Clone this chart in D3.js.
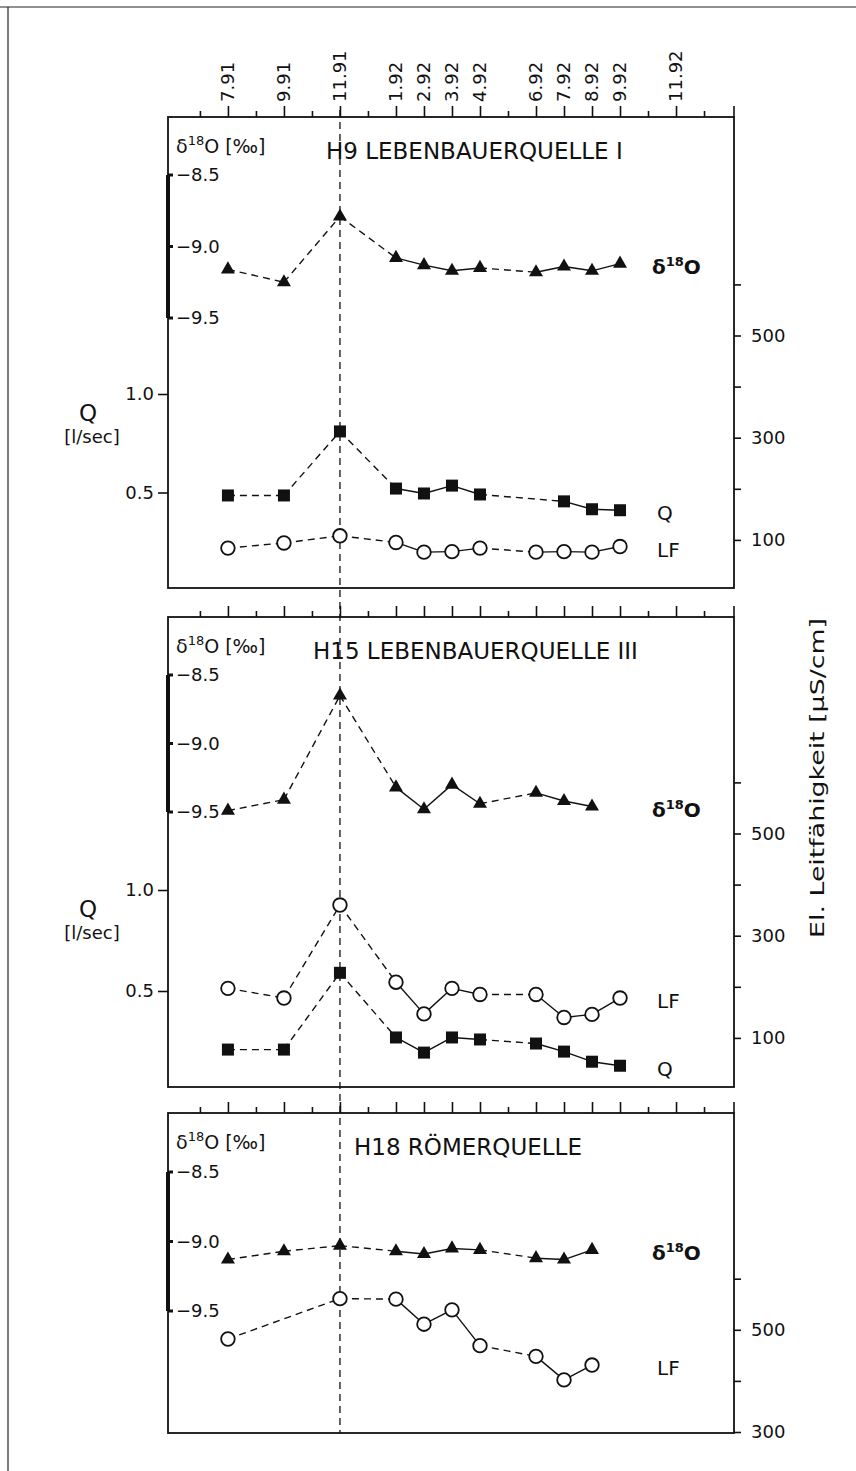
<!DOCTYPE html>
<html>
<head>
<meta charset="utf-8">
<script src="https://cdn.jsdelivr.net/npm/d3@7"></script>
<style>
  body { margin: 0; background: #fff; }
  text { font-family: "DejaVu Sans", sans-serif; fill: #111; }
</style>
</head>
<body>
<div id="chart"></div>
<script>
// sampling dates (month.year)
var months = ["7.91", "9.91", "11.91", "1.92", "2.92", "3.92", "4.92", "6.92", "7.92", "8.92", "9.92"];
var topLabels = ["7.91", "9.91", "11.91", "1.92", "2.92", "3.92", "4.92", "6.92", "7.92", "8.92", "9.92", "11.92"];
var titles = ["H9 LEBENBAUERQUELLE I", "H15 LEBENBAUERQUELLE III", "H18 RÖMERQUELLE"];
var deltaTicks = [-8.5, -9.0, -9.5];
var qTicks = [0.5, 1.0];
var lfTicks = [100, 200, 300, 400, 500, 600];
var lfTicks3 = [300, 400, 500, 600];

// H9 Lebenbauerquelle I
var h9Delta = [-9.16, -9.25, -8.79, -9.08, -9.13, -9.17, -9.15, -9.18, -9.14, -9.17, -9.12];
var h9Q = [0.485, 0.485, 0.81, 0.52, 0.495, 0.535, 0.49, null, 0.455, 0.415, 0.41];
var h9LF = [84, 94, 108, 95, 76, 77, 84, 76, 77, 76, 87];
// H15 Lebenbauerquelle III
var h15Delta = [-9.49, -9.41, -8.65, -9.32, -9.48, -9.30, -9.44, -9.36, -9.42, -9.46, null];
var h15Q = [0.21, 0.21, 0.59, 0.27, 0.195, 0.27, 0.26, 0.24, 0.20, 0.15, 0.13];
var h15LF = [197, 178, 360, 209, 147, 197, 185, 185, 140, 146, 178];
// H18 Roemerquelle
var h18Delta = [-9.13, -9.07, -9.03, -9.07, -9.09, -9.05, -9.06, -9.12, -9.13, -9.06, null];
var h18LF = [482, null, 561, 560, 511, 539, 469, 448, 402, 431, null];

var width = 856, height = 1471;

var svg = d3.select("#chart").append("svg")
    .attr("width", width)
    .attr("height", height);

function monthIndex(s) {
    var p = s.split(".");
    return (+p[1] - 91) * 12 + (+p[0] - 7);
}

var left = 168, right = 734;
var x = d3.scaleLinear().domain([-2.14, 18.07]).range([left, right]);

// outer frame (top and left edge of the scanned page)
svg.append("line").attr("x1", 0).attr("x2", width).attr("y1", 7).attr("y2", 7)
    .attr("stroke", "#222").attr("stroke-width", 1.2);
svg.append("line").attr("x1", 8).attr("x2", 8).attr("y1", 7).attr("y2", height)
    .attr("stroke", "#222").attr("stroke-width", 1.2);

var panels = [
    { top: 117, bottom: 588, d: [175, 318], q: [591, 394], lf0: 591, lfMin: 0, lfTicks: lfTicks, titleX: 326,
      series: [
        { vals: h9Delta, type: "d", label: "delta" },
        { vals: h9Q, type: "q", label: "Q" },
        { vals: h9LF, type: "lf", label: "LF" }
      ] },
    { top: 617, bottom: 1087, d: [675, 812], q: [1092, 890], lf0: 1089, lfMin: 0, lfTicks: lfTicks, titleX: 313,
      series: [
        { vals: h15Delta, type: "d", label: "delta" },
        { vals: h15Q, type: "q", label: "Q" },
        { vals: h15LF, type: "lf", label: "LF" }
      ] },
    { top: 1113, bottom: 1433, d: [1172, 1311], q: null, lf0: 1432, lfMin: 300, lfTicks: lfTicks3, titleX: 354,
      series: [
        { vals: h18Delta, type: "d", label: "delta" },
        { vals: h18LF, type: "lf", label: "LF" }
      ] }
];

var majorIdx = topLabels.map(monthIndex);
var allIdx = d3.range(-1, 18);
var minorIdx = allIdx.filter(function (d) { return majorIdx.indexOf(d) < 0; });

// dashed reference line at 11.91
svg.append("line")
    .attr("x1", x(monthIndex("11.91"))).attr("x2", x(monthIndex("11.91")))
    .attr("y1", 110).attr("y2", panels[2].bottom)
    .attr("stroke", "#111").attr("stroke-width", 1.3)
    .attr("stroke-dasharray", "7,5");

panels.forEach(function (p, pi) {
    var g = svg.append("g");

    var yD = d3.scaleLinear().domain([-8.5, -9.5]).range(p.d);
    var yQ = p.q ? d3.scaleLinear().domain([0, 1]).range(p.q) : null;
    var yLF = d3.scaleLinear().domain([p.lfMin, 1000]).range([p.lf0, p.lf0 - 0.511 * (1000 - p.lfMin)]);
    var scaleFor = { d: yD, q: yQ, lf: yLF };

    // frame
    g.append("rect")
        .attr("x", left).attr("y", p.top)
        .attr("width", right - left).attr("height", p.bottom - p.top)
        .attr("fill", "none").attr("stroke", "#111").attr("stroke-width", 1.8);

    // top time axis: minor and major ticks
    var minorAxis = g.append("g").attr("transform", "translate(0," + p.top + ")")
        .call(d3.axisTop(x).tickValues(minorIdx).tickSize(6).tickFormat(""));
    var majorAxis = g.append("g").attr("transform", "translate(0," + p.top + ")")
        .call(d3.axisTop(x).tickValues(majorIdx).tickSize(11).tickFormat(""));
    [minorAxis, majorAxis].forEach(function (a) {
        a.select(".domain").remove();
        a.selectAll(".tick line").attr("stroke", "#111").attr("stroke-width", 1.6);
    });
    // right end tick of the time axis
    g.append("line").attr("x1", right).attr("x2", right)
        .attr("y1", p.top).attr("y2", p.top - 11)
        .attr("stroke", "#111").attr("stroke-width", 1.6);

    if (pi === 0) {
        g.selectAll(".toplab").data(topLabels).enter().append("text")
            .attr("transform", function (d) {
                return "translate(" + (x(monthIndex(d)) + 6) + "," + (p.top - 15) + ") rotate(-90)";
            })
            .attr("font-size", 18)
            .text(function (d) { return d; });
    }

    // delta 18O axis: heavy bar with stubs on the left frame
    g.append("line").attr("x1", left).attr("x2", left)
        .attr("y1", yD(-8.5)).attr("y2", yD(-9.5))
        .attr("stroke", "#111").attr("stroke-width", 4);
    deltaTicks.forEach(function (v) {
        g.append("line").attr("x1", left).attr("x2", left + 5)
            .attr("y1", yD(v)).attr("y2", yD(v))
            .attr("stroke", "#111").attr("stroke-width", 3);
        g.append("text").attr("x", left + 8).attr("y", yD(v))
            .attr("dy", "0.35em").attr("font-size", 18)
            .text("\u2212" + Math.abs(v).toFixed(1));
    });
    var dl = g.append("text").attr("x", left + 8).attr("y", p.top + 36).attr("font-size", 19);
    dl.append("tspan").text("\u03b4");
    dl.append("tspan").attr("dy", -8).attr("font-size", 13).text("18");
    dl.append("tspan").attr("dy", 8).text("O [\u2030]");

    // title
    g.append("text").attr("x", p.titleX).attr("y", p.top + 42)
        .attr("font-size", 23)
        .text(titles[pi]);

    // discharge axis
    if (yQ) {
        var qa = g.append("g").attr("transform", "translate(" + left + ",0)")
            .call(d3.axisLeft(yQ).tickValues(qTicks).tickSize(10).tickPadding(4)
                .tickFormat(d3.format(".1f")));
        qa.select(".domain").remove();
        qa.selectAll(".tick line").attr("stroke", "#111").attr("stroke-width", 1.6);
        qa.selectAll(".tick text").attr("font-size", 18).attr("fill", "#111")
            .style("font-family", "DejaVu Sans, sans-serif");
        g.append("text").attr("x", 88).attr("y", yQ(1.0) + 27)
            .attr("text-anchor", "middle").attr("font-size", 23).text("Q");
        g.append("text").attr("x", 92).attr("y", yQ(1.0) + 49)
            .attr("text-anchor", "middle").attr("font-size", 18).text("[l/sec]");
    }

    // conductivity axis
    var la = g.append("g").attr("transform", "translate(" + right + ",0)")
        .call(d3.axisRight(yLF).tickValues(p.lfTicks).tickSize(7).tickPadding(10)
            .tickFormat(function (d) { return (d % 200 === 100) ? d : ""; }));
    la.select(".domain").remove();
    la.selectAll(".tick line").attr("stroke", "#111").attr("stroke-width", 1.6);
    la.selectAll(".tick text").attr("font-size", 18).attr("fill", "#111")
        .style("font-family", "DejaVu Sans, sans-serif");

    // series
    p.series.forEach(function (s) {
        var ys = scaleFor[s.type];
        var pts = [];
        s.vals.forEach(function (v, i) {
            if (v !== null) pts.push({ m: monthIndex(months[i]), v: v });
        });
        var line = d3.line().x(function (d) { return x(d.m); }).y(function (d) { return ys(d.v); });
        for (var i = 1; i < pts.length; i++) {
            var gap = pts[i].m - pts[i - 1].m;
            g.append("path")
                .attr("d", line([pts[i - 1], pts[i]]))
                .attr("fill", "none").attr("stroke", "#111").attr("stroke-width", 1.4)
                .attr("stroke-dasharray", gap > 1 ? "7,5" : null);
        }
        var mk = g.append("g").selectAll("g").data(pts).enter().append("g")
            .attr("transform", function (d) { return "translate(" + x(d.m) + "," + ys(d.v) + ")"; });
        if (s.type === "d") {
            mk.append("path").attr("d", d3.symbol(d3.symbolTriangle, 85)).attr("fill", "#111");
        } else if (s.type === "q") {
            mk.append("rect").attr("x", -6).attr("y", -6).attr("width", 12).attr("height", 12).attr("fill", "#111");
        } else {
            mk.append("circle").attr("r", 6.8).attr("fill", "#fff")
                .attr("stroke", "#111").attr("stroke-width", 1.8);
        }
        var last = pts[pts.length - 1];
        var lt = g.append("text").attr("y", ys(last.v) + 3).attr("dy", "0.35em");
        if (s.label === "delta") {
            lt.attr("x", 652).attr("font-size", 20).attr("font-weight", "bold");
            lt.append("tspan").text("\u03b4");
            lt.append("tspan").attr("dy", -8).attr("font-size", 13).text("18");
            lt.append("tspan").attr("dy", 8).text("O");
        } else {
            lt.attr("x", 657).attr("font-size", 20).text(s.label);
        }
    });
});

// right axis title
svg.append("text")
    .attr("transform", "translate(824,778) rotate(-90)")
    .attr("text-anchor", "middle")
    .attr("font-size", 19)
    .attr("textLength", 320)
    .attr("lengthAdjust", "spacingAndGlyphs")
    .text("El. Leitfähigkeit [\u00b5S/cm]");
</script>
</body>
</html>
